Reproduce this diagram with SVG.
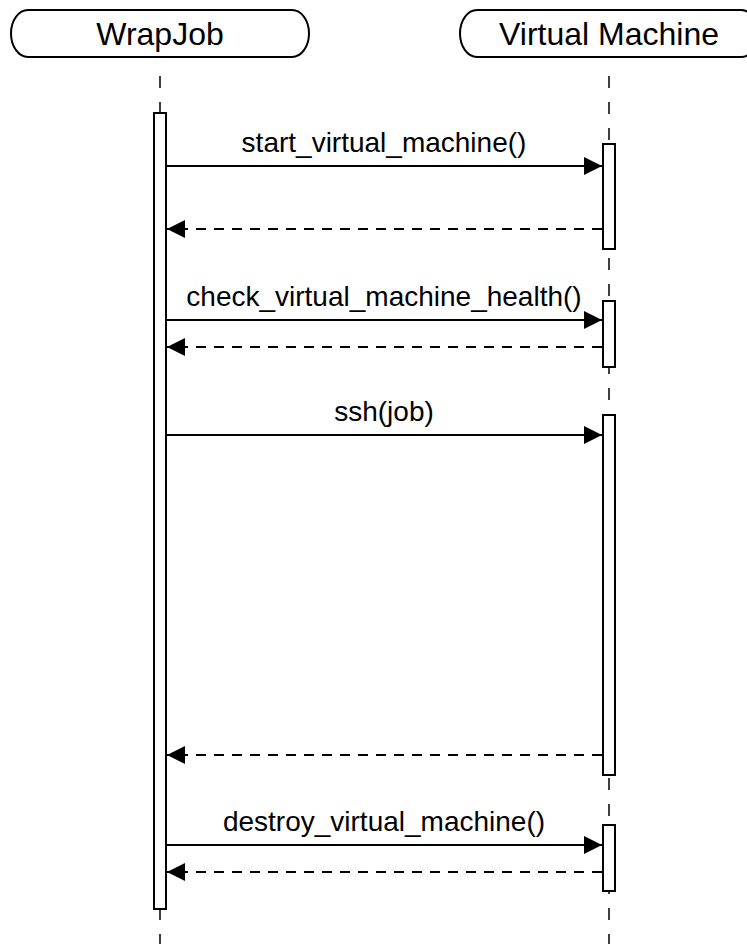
<svg xmlns="http://www.w3.org/2000/svg" width="747" height="944" viewBox="0 0 747 944">
  <style>
    .head { fill: #ffffff; stroke: #000000; stroke-width: 2; }
    .head-label { font-family: "Liberation Sans", Arial, sans-serif; font-size: 32px; fill: #000000; text-anchor: middle; }
    .lifeline { stroke: #000000; stroke-width: 1.5; stroke-dasharray: 12 14; fill: none; }
    .bar { fill: #ffffff; stroke: #000000; stroke-width: 2; }
    .msg { stroke: #000000; stroke-width: 2; fill: none; }
    .ret { stroke: #000000; stroke-width: 2; fill: none; stroke-dasharray: 10 8; }
    .msg-label { font-family: "Liberation Sans", Arial, sans-serif; font-size: 28px; fill: #000000; text-anchor: middle; }
  </style>
  <defs>
    <marker id="arrow" markerUnits="userSpaceOnUse" markerWidth="18" markerHeight="18" viewBox="0 0 16 16" refX="16" refY="8" orient="auto">
      <path d="M0,0 L16,8 L0,16 Z" fill="#000000"/>
    </marker>
  </defs>

  <rect width="747" height="944" fill="#ffffff"/>

  <!-- lifelines, drawn behind the activation bars -->
  <g id="lifelines">
    <line class="lifeline" x1="160" y1="76" x2="160" y2="944"/>
    <line class="lifeline" x1="609" y1="76" x2="609" y2="944"/>
  </g>

  <g id="wrapjob">
    <rect class="head" x="11" y="10" width="298" height="47" rx="17" ry="23.5"/>
    <text class="head-label" x="160" y="45">WrapJob</text>
    <rect class="bar" x="154" y="113" width="12" height="796"/>
  </g>

  <g id="virtual-machine">
    <rect class="head" x="460" y="10" width="298" height="47" rx="17" ry="23.5"/>
    <text class="head-label" x="609" y="45">Virtual Machine</text>
    <rect class="bar" x="603" y="144" width="12" height="105"/>
    <rect class="bar" x="603" y="301" width="12" height="66"/>
    <rect class="bar" x="603" y="415" width="12" height="360"/>
    <rect class="bar" x="603" y="825" width="12" height="66"/>
  </g>

  <g id="connectors">
    <line class="msg" x1="166" y1="166" x2="602" y2="166" marker-end="url(#arrow)"/>
    <text class="msg-label" x="384" y="152">start_virtual_machine()</text>
    <line class="ret" x1="602" y1="229" x2="167" y2="229" marker-end="url(#arrow)"/>

    <line class="msg" x1="166" y1="320" x2="602" y2="320" marker-end="url(#arrow)"/>
    <text class="msg-label" x="384" y="306">check_virtual_machine_health()</text>
    <line class="ret" x1="602" y1="347" x2="167" y2="347" marker-end="url(#arrow)"/>

    <line class="msg" x1="166" y1="435" x2="602" y2="435" marker-end="url(#arrow)"/>
    <text class="msg-label" x="384" y="421">ssh(job)</text>
    <line class="ret" x1="602" y1="755" x2="167" y2="755" marker-end="url(#arrow)"/>

    <line class="msg" x1="166" y1="845" x2="602" y2="845" marker-end="url(#arrow)"/>
    <text class="msg-label" x="384" y="831">destroy_virtual_machine()</text>
    <line class="ret" x1="602" y1="872" x2="167" y2="872" marker-end="url(#arrow)"/>
  </g>
</svg>
